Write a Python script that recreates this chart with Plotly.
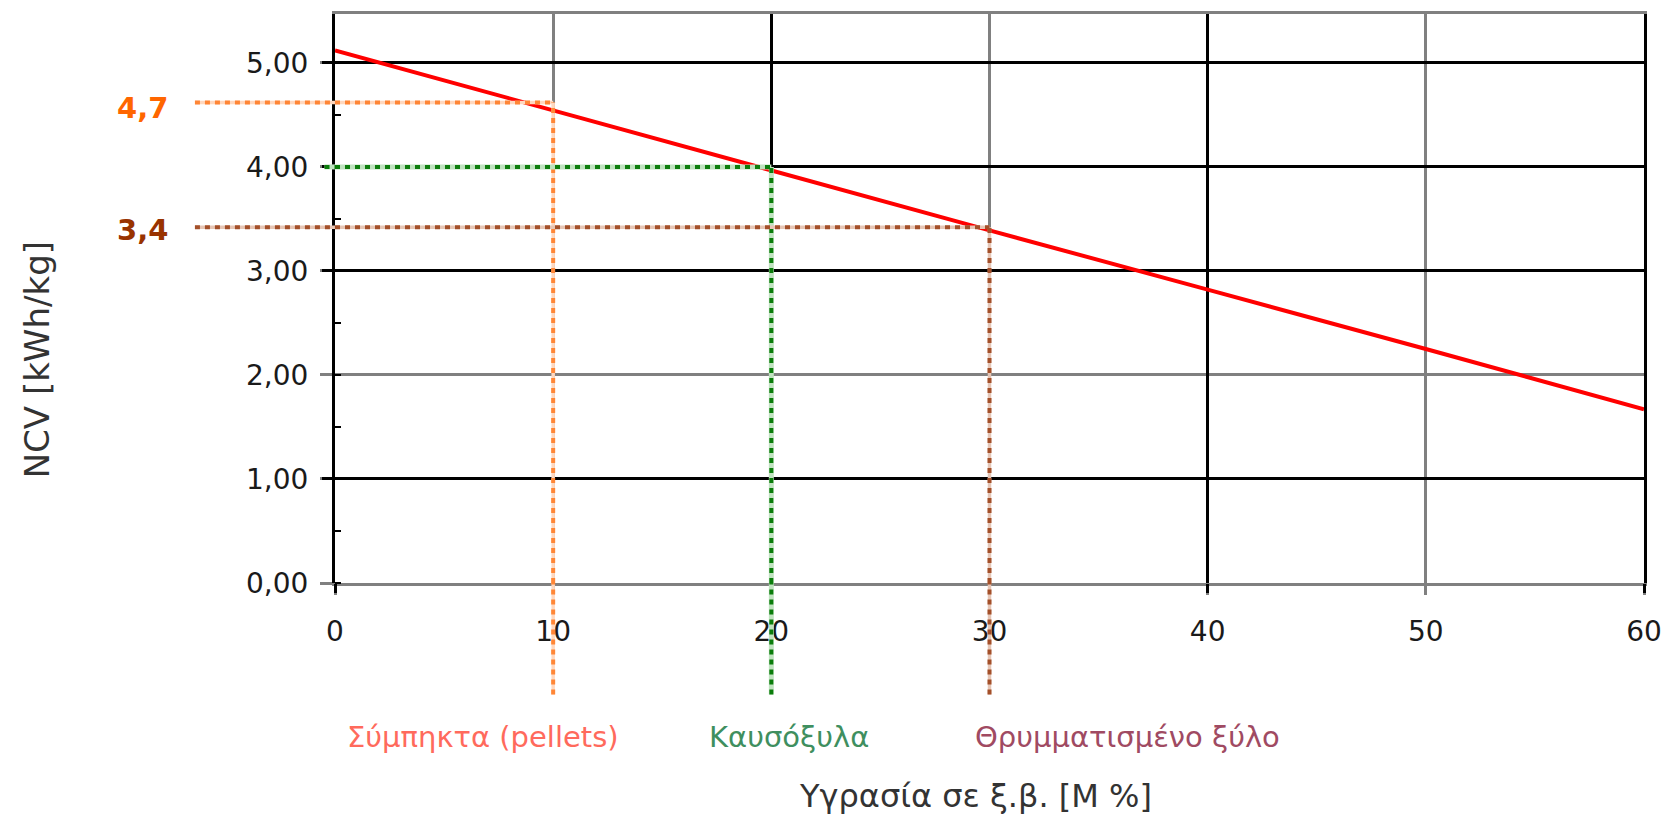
import plotly.graph_objects as go

# ---- data ----
moisture = [0, 10, 20, 30, 40, 50, 60]
ncv = [5.12, 4.54, 3.97, 3.39, 2.82, 2.25, 1.67]

fuel_names = ["Σύμπηκτα (pellets)", "Καυσόξυλα", "Θρυμματισμένο ξύλο"]
fuel_moisture = [10, 20, 30]
fuel_ncv = [4.62, 4.00, 3.42]
fuel_value_labels = ["4,7", "", "3,4"]

x_ticks = [0, 10, 20, 30, 40, 50, 60]
x_black_grid = [0, 20, 40, 60]
y_ticks = [0, 1, 2, 3, 4, 5]
y_black_grid = [1, 3, 4, 5]

# ---- styles ----
line_colors = ["#FF8636", "#0B7D0B", "#A4502A"]
halo_colors = ["#FFD8BF", "#BFE3BF", "#E6C6B6"]
halo_widths = [3.5, 5, 3.5]
text_colors = ["#FF6A5C", "#3F8F5F", "#A04A62"]
value_label_colors = ["#FF6600", "#008000", "#993300"]
value_label_yshift = [-6, 0, -3]
h_start = [-0.107, -0.008, -0.107]   # paper x where horizontal guides start
v_end = -0.196                       # paper y where vertical guides end
label_xshift = [-70, 18, 138]
FONT = "DejaVu Sans"

fig = go.Figure()

fig.add_trace(go.Scatter(
    x=moisture, y=ncv, mode="lines",
    line=dict(color="#FF0000", width=4),
    showlegend=False, hoverinfo="skip"))

# invisible trace to activate the overlay axes (black grid lines)
fig.add_trace(go.Scatter(
    x=moisture, y=ncv, mode="none", xaxis="x2", yaxis="y2",
    showlegend=False, hoverinfo="skip"))

shapes = []
for i in range(len(fuel_names)):
    m, v = fuel_moisture[i], fuel_ncv[i]
    segs = [
        dict(xref="x", yref="y", x0=0, x1=m, y0=v, y1=v),
        dict(xref="paper", yref="y", x0=h_start[i], x1=0, y0=v, y1=v),
        dict(xref="x", yref="y", x0=m, x1=m, y0=0, y1=v),
        dict(xref="x", yref="paper", x0=m, x1=m, y0=v_end, y1=0),
    ]
    for s in segs:
        shapes.append(dict(type="line", layer="above",
                           line=dict(color=halo_colors[i], width=halo_widths[i]), **s))
    for s in segs:
        shapes.append(dict(type="line", layer="above",
                           line=dict(color=line_colors[i], width=4, dash="5px,5px"), **s))

annotations = []
for i in range(len(fuel_names)):
    annotations.append(dict(
        xref="x", yref="paper", x=fuel_moisture[i], y=-0.271,
        xshift=label_xshift[i], text=fuel_names[i], showarrow=False,
        font=dict(family=FONT, size=29, color=text_colors[i]),
        xanchor="center", yanchor="middle"))
    if fuel_value_labels[i]:
        annotations.append(dict(
            xref="paper", yref="y", x=-0.147, y=fuel_ncv[i],
            yshift=value_label_yshift[i],
            text="<b>" + fuel_value_labels[i] + "</b>", showarrow=False,
            font=dict(family=FONT, size=29, color=value_label_colors[i]),
            xanchor="center", yanchor="middle"))

annotations.append(dict(
    xref="paper", yref="paper", x=0.489, y=-0.374,
    text="Υγρασία σε ξ.β. [M %]", showarrow=False,
    font=dict(family=FONT, size=32, color="#333333"),
    xanchor="center", yanchor="middle"))
annotations.append(dict(
    xref="paper", yref="paper", x=-0.2277, y=0.393,
    text="NCV [kWh/kg]", showarrow=False, textangle=-90,
    font=dict(family=FONT, size=34, color="#333333"),
    xanchor="center", yanchor="middle"))

tickfont = dict(family=FONT, size=28, color="#1a1a1a")

fig.update_layout(
    width=1677, height=821,
    margin=dict(l=335, r=33, t=11, b=238),
    paper_bgcolor="white", plot_bgcolor="white",
    separators=",.",
    showlegend=False,
    shapes=shapes,
    annotations=annotations,
    xaxis=dict(
        range=[0, 60], tickvals=x_ticks, tickfont=tickfont,
        ticks="outside", ticklen=9, tickwidth=3, tickcolor="#808080",
        ticklabelstandoff=12,
        showgrid=True, gridcolor="#808080", gridwidth=3,
        showline=True, linecolor="#808080", linewidth=3, mirror=True,
        zeroline=False),
    yaxis=dict(
        range=[0, 5.47], tickvals=y_ticks, tickformat=".2f", tickfont=tickfont,
        ticks="outside", ticklen=12, tickwidth=3, tickcolor="#808080",
        ticklabelstandoff=6,
        showgrid=True, gridcolor="#808080", gridwidth=3,
        showline=True, linecolor="black", linewidth=3, mirror=True,
        zeroline=False,
        minor=dict(ticks="inside", dtick=0.5, ticklen=6, tickwidth=2,
                   tickcolor="black", showgrid=False)),
    xaxis2=dict(
        overlaying="x", anchor="y", side="bottom",
        range=[0, 60], tickvals=x_black_grid, showticklabels=False,
        ticks="outside", ticklen=9, tickwidth=3, tickcolor="black",
        showgrid=True, gridcolor="black", gridwidth=3,
        showline=False, zeroline=False),
    yaxis2=dict(
        overlaying="y", anchor="x", side="left",
        range=[0, 5.47], tickvals=y_black_grid, showticklabels=False,
        ticks="outside", ticklen=12, tickwidth=3, tickcolor="black",
        showgrid=True, gridcolor="black", gridwidth=3,
        showline=False, zeroline=False),
)

fig.write_html("out.html", config={"displayModeBar": False},
               post_script="document.body.style.margin='0';")
